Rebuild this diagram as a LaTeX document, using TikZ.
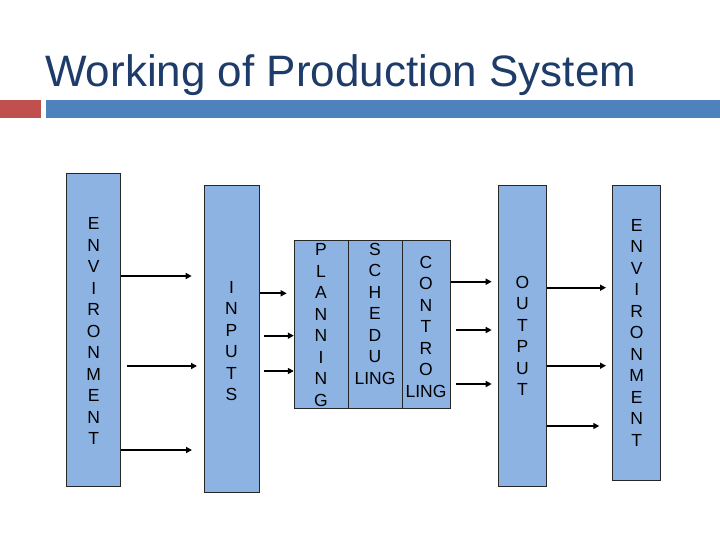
\documentclass[tikz,border=0pt]{standalone}
\usepackage{fontspec}
\setmainfont{Liberation Sans}
\usetikzlibrary{arrows.meta}
\definecolor{titlecol}{RGB}{30,60,105}
\definecolor{barred}{RGB}{192,80,77}
\definecolor{barblue}{RGB}{79,129,189}
\definecolor{boxfill}{RGB}{141,179,226}
\tikzset{
  blk/.style={draw=black!85, line width=1pt, fill=boxfill, inner sep=0pt},
  stack/.style={align=center, inner sep=0pt, font=\fontsize{17.5}{21.5}\selectfont},
  arr/.style={line width=2.1pt, -{Triangle[length=6pt,width=6pt]}}
}
\begin{document}
\begin{tikzpicture}[x=1pt,y=-1pt]
\useasboundingbox (0,0) rectangle (720,540);
% title and bars
\node[anchor=base west, inner sep=0pt, text=titlecol, font=\fontsize{44}{50}\selectfont] (title) at (45,86.7) {Working of Production System};
\fill[barred] (0,100) rectangle (41,118);
\fill[barblue] (46,100) rectangle (720,118);
% boxes
\node[blk, minimum width=54pt, minimum height=312pt] (envL) at (93.7,330) {};
\node[blk, minimum width=55pt, minimum height=306.7pt] (inputs) at (231.5,339.35) {};
\node[blk, minimum width=54pt, minimum height=167.6pt] (plan) at (321.3,324.5) {};
\node[blk, minimum width=54.4pt, minimum height=167.6pt] (sched) at (375.5,324.5) {};
\node[blk, minimum width=48pt, minimum height=167.6pt] (ctrl) at (426.7,324.5) {};
\node[blk, minimum width=48.4pt, minimum height=300pt] (output) at (522.5,336) {};
\node[blk, minimum width=48pt, minimum height=294pt] (envR) at (636.7,333) {};
% texts
\node[stack] (tEnvL) at (93.7,331) {E\\N\\V\\I\\R\\O\\N\\M\\E\\N\\T};
\node[stack] (tInputs) at (231.5,341) {I\\N\\P\\U\\T\\S};
\node[stack] (tPlan) at (321,325) {P\\L\\A\\N\\N\\I\\N\\G};
\node[stack] (tSched) at (375,313.7) {S\\C\\H\\E\\D\\U\\LING};
\node[stack] (tCtrl) at (426,326.7) {C\\O\\N\\T\\R\\O\\LING};
\node[stack] (tOutput) at (522.5,336) {O\\U\\T\\P\\U\\T};
\node[stack] (tEnvR) at (636.7,332.5) {E\\N\\V\\I\\R\\O\\N\\M\\E\\N\\T};
% arrow tips and free starts
\coordinate (a1) at (191.7,276);
\coordinate (s2) at (126.7,366);
\coordinate (a2) at (197,366);
\coordinate (a3) at (192,450);
\coordinate (a4) at (286.7,293.3);
\coordinate (s5) at (264,335.7);
\coordinate (s6) at (264,371);
\coordinate (a7) at (491.7,281.7);
\coordinate (s8) at (456,330);
\coordinate (a8) at (491.7,330);
\coordinate (s9) at (456,384);
\coordinate (a9) at (491.7,384);
\coordinate (a10) at (606,287.7);
\coordinate (a11) at (606,365.7);
\coordinate (a12) at (599.3,426);
% connectors
\draw[arr] (envL.east |- a1) -- (a1);
\draw[arr] (s2) -- (a2);
\draw[arr] (envL.east |- a3) -- (a3);
\draw[arr] (inputs.east |- a4) -- (a4);
\draw[arr] (s5) -- (plan.west |- s5);
\draw[arr] (s6) -- (plan.west |- s6);
\draw[arr] (ctrl.east |- a7) -- (a7);
\draw[arr] (s8) -- (a8);
\draw[arr] (s9) -- (a9);
\draw[arr] (output.east |- a10) -- (a10);
\draw[arr] (output.east |- a11) -- (a11);
\draw[arr] (output.east |- a12) -- (a12);
\end{tikzpicture}
\end{document}
